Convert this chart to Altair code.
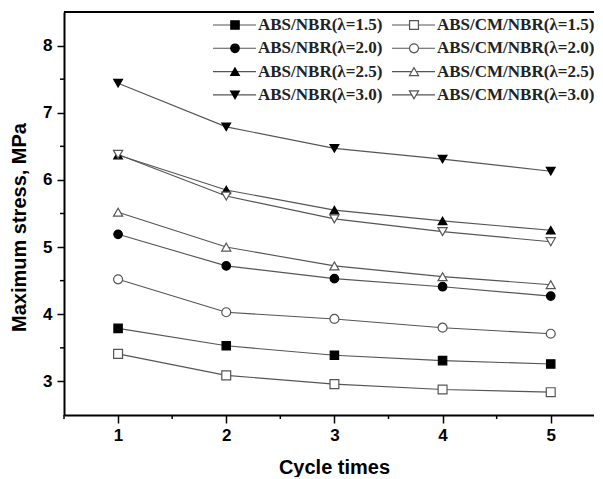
import altair as alt
import pandas as pd

# ---- data ----
cycles = [1, 2, 3, 4, 5]
series_names = [
    "ABS/NBR(λ=1.5)", "ABS/NBR(λ=2.0)", "ABS/NBR(λ=2.5)", "ABS/NBR(λ=3.0)",
    "ABS/CM/NBR(λ=1.5)", "ABS/CM/NBR(λ=2.0)", "ABS/CM/NBR(λ=2.5)", "ABS/CM/NBR(λ=3.0)",
]
nbr_15 = [3.79, 3.53, 3.39, 3.31, 3.26]
nbr_20 = [5.19, 4.72, 4.53, 4.41, 4.27]
nbr_25 = [6.37, 5.85, 5.55, 5.39, 5.25]
nbr_30 = [7.44, 6.79, 6.47, 6.31, 6.13]
cm_15 = [3.41, 3.09, 2.96, 2.88, 2.84]
cm_20 = [4.52, 4.03, 3.93, 3.80, 3.71]
cm_25 = [5.52, 5.00, 4.72, 4.56, 4.44]
cm_30 = [6.38, 5.76, 5.42, 5.23, 5.08]
y_ticks = [3, 4, 5, 6, 7, 8]
y_minor = [3.5, 4.5, 5.5, 6.5, 7.5]
x_ticks = [1, 2, 3, 4, 5]
x_minor = [0.5, 1.5, 2.5, 3.5, 4.5]

all_values = [nbr_15, nbr_20, nbr_25, nbr_30, cm_15, cm_20, cm_25, cm_30]
rows = []
for name, vals in zip(series_names, all_values):
    for c, v in zip(cycles, vals):
        rows.append({"series": name, "cycle": c, "stress": v})
df = pd.DataFrame(rows)

# ---- styles ----
W, H = 530, 403
shapes = ["square", "circle", "triangle-up", "triangle-down"] * 2
fills = ["black"] * 4 + ["white"] * 4
strokes = ["black"] * 4 + ["#555555"] * 4
sizes = [70, 85, 100, 100] * 2
shape_scale = alt.Scale(domain=series_names, range=shapes)
fill_scale = alt.Scale(domain=series_names, range=fills)
stroke_scale = alt.Scale(domain=series_names, range=strokes)
size_scale = alt.Scale(domain=series_names, range=sizes)

x_scale = alt.Scale(domain=[0.5, 5.4], nice=False, zero=False)
y_scale = alt.Scale(domain=[2.5, 8.5], nice=False, zero=False)
SANS = "Liberation Sans"
SERIF = "Liberation Serif"

x_axis = alt.Axis(values=x_ticks, format="d", tickSize=8, labelPadding=4,
                  title="Cycle times", titlePadding=14, titleX=270, grid=False)
y_axis = alt.Axis(values=y_ticks, format="d", tickSize=7, labelPadding=5,
                  title="Maximum stress, MPa", titlePadding=13, titleY=215, grid=False)

lines = alt.Chart(df).mark_line(color="#555555", strokeWidth=1.1).encode(
    x=alt.X("cycle:Q", scale=x_scale, axis=x_axis),
    y=alt.Y("stress:Q", scale=y_scale, axis=y_axis),
    detail="series:N",
)

points = alt.Chart(df).mark_point(filled=True, opacity=1, strokeWidth=1.2).encode(
    x=alt.X("cycle:Q", axis=x_axis),
    y=alt.Y("stress:Q", axis=y_axis),
    shape=alt.Shape("series:N", scale=shape_scale, legend=None),
    fill=alt.Fill("series:N", scale=fill_scale, legend=None),
    stroke=alt.Stroke("series:N", scale=stroke_scale, legend=None),
    size=alt.Size("series:N", scale=size_scale, legend=None),
)

# minor ticks (same field names so the axes merge)
ymin_df = pd.DataFrame({"stress": y_minor})
xmin_df = pd.DataFrame({"cycle": x_minor})
y_minor_ticks = alt.Chart(ymin_df).mark_rule(color="black", strokeWidth=1.5).encode(
    y=alt.Y("stress:Q", axis=y_axis), x=alt.value(-4), x2=alt.value(0))
x_minor_ticks = alt.Chart(xmin_df).mark_rule(color="black", strokeWidth=1.5).encode(
    x=alt.X("cycle:Q", axis=x_axis), y=alt.value(H), y2=alt.value(H + 4))

# top frame line
top_line = alt.Chart(pd.DataFrame({"a": [0]})).mark_rule(color="black", strokeWidth=2).encode(
    x=alt.value(0), x2=alt.value(W), y=alt.value(0))

# custom legend (2 columns x 4 rows)
leg = []
for i, name in enumerate(series_names):
    col, row = divmod(i, 4)
    x0 = 149 + col * 179
    leg.append({"series": name, "lx1": x0, "lx2": x0 + 43, "px": x0 + 22,
                "tx": x0 + 45, "ly": 13 + row * 23.3})
leg_df = pd.DataFrame(leg)

leg_lines = alt.Chart(leg_df).mark_rule(color="#555555", strokeWidth=1.1).encode(
    x=alt.X("lx1:Q", scale=None), x2="lx2:Q", y=alt.Y("ly:Q", scale=None))
leg_points = alt.Chart(leg_df).mark_point(filled=True, opacity=1, strokeWidth=1.2).encode(
    x=alt.X("px:Q", scale=None), y=alt.Y("ly:Q", scale=None),
    shape=alt.Shape("series:N", scale=shape_scale, legend=None),
    fill=alt.Fill("series:N", scale=fill_scale, legend=None),
    stroke=alt.Stroke("series:N", scale=stroke_scale, legend=None),
    size=alt.Size("series:N", scale=size_scale, legend=None),
)
leg_text = alt.Chart(leg_df).mark_text(
    align="left", baseline="middle", font=SERIF, fontSize=17, fontWeight="bold",
    color="#222222").encode(
    x=alt.X("tx:Q", scale=None), y=alt.Y("ly:Q", scale=None), text="series:N")

chart = alt.layer(
    lines, points, y_minor_ticks, x_minor_ticks, top_line,
    leg_lines, leg_points, leg_text,
).properties(
    width=W, height=H,
    autosize=alt.AutoSizeParams(type="none"),
    padding={"left": 56, "top": 4, "right": 0, "bottom": 62},
).configure_view(stroke=None).configure_axis(
    domainColor="black", domainWidth=2, tickColor="black", tickWidth=1.5,
    labelFont=SANS, labelFontSize=17, labelFontWeight="bold", labelColor="black",
    titleFont=SANS, titleFontSize=20, titleFontWeight="bold", titleColor="black",
)

chart.save("out.html", embed_options={"renderer": "svg", "actions": False})
